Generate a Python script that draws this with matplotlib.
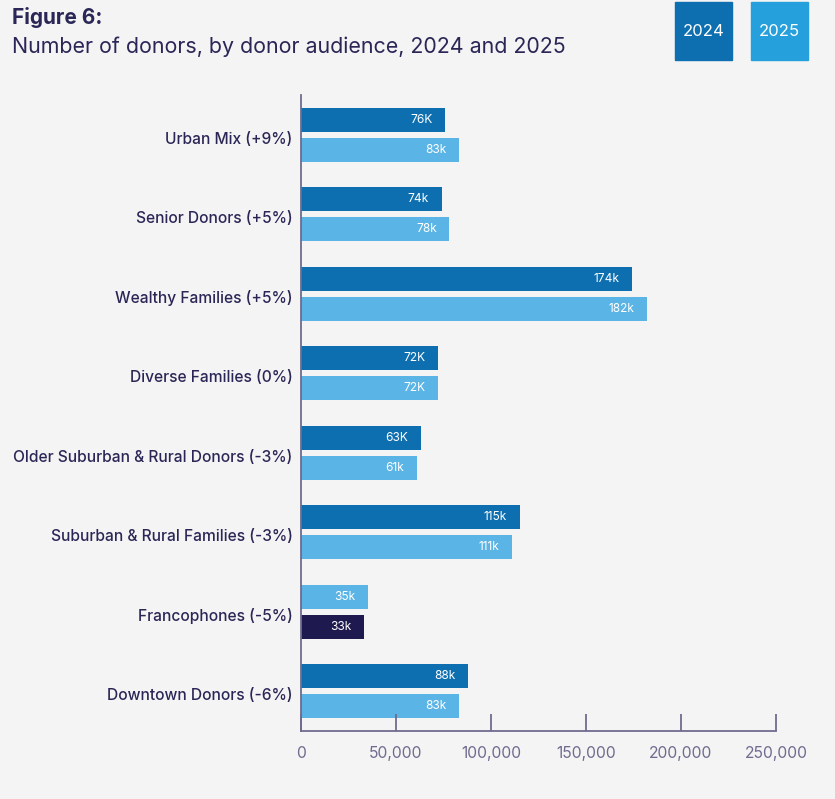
import matplotlib
matplotlib.use("Agg")
import matplotlib.pyplot as plt
import matplotlib.patches as mpatches
import matplotlib.transforms as mtransforms

# donor audiences, top to bottom
audiences = [
    "Urban Mix (+9%)",
    "Senior Donors (+5%)",
    "Wealthy Families (+5%)",
    "Diverse Families (0%)",
    "Older Suburban & Rural Donors (-3%)",
    "Suburban & Rural Families (-3%)",
    "Francophones (-5%)",
    "Downtown Donors (-6%)",
]
# upper bar and lower bar of each pair (thousands of donors)
upper_vals = [76, 74, 174, 72, 63, 115, 35, 88]
lower_vals = [83, 78, 182, 72, 61, 111, 33, 83]
upper_labels = ["76K", "74k", "174k", "72K", "63K", "115k", "35k", "88k"]
lower_labels = ["83k", "78k", "182k", "72K", "61k", "111k", "33k", "83k"]
x_ticks = [0, 50000, 100000, 150000, 200000, 250000]
legend_years = ["2024", "2025"]

DARK = "#0e6fb0"
LIGHT = "#5ab4e5"
NAVY = "#1e1a4f"
BG = "#f4f4f4"
TEXT = "#2a2656"
AXIS = "#6f6b8f"

upper_colors = [DARK] * 8
lower_colors = [LIGHT] * 8
upper_colors[6] = LIGHT
lower_colors[6] = NAVY

plt.rcParams["font.family"] = ["Inter", "DejaVu Sans"]

fig = plt.figure(figsize=(8.35, 7.99), dpi=100, facecolor=BG)
ax = fig.add_axes([301 / 835, 1 - 731 / 799, 475 / 835, 636 / 799])
ax.set_facecolor(BG)

bar_h = 0.302
off = 0.189
ys = list(range(len(audiences)))
top = ax.barh([y - off for y in ys], [v * 1000 for v in upper_vals], height=bar_h,
              color=upper_colors)
bot = ax.barh([y + off for y in ys], [v * 1000 for v in lower_vals], height=bar_h,
              color=lower_colors)

for bars, labels in [(top, upper_labels), (bot, lower_labels)]:
    for b, lab in zip(bars, labels):
        ax.annotate(lab, (b.get_width(), b.get_y() + b.get_height() / 2),
                    xytext=(-9, 0), textcoords="offset points",
                    ha="right", va="center", color="white", fontsize=8.6)

ax.set_xlim(0, 250000)
ax.set_ylim(len(audiences) - 0.5, -0.5)
ax.set_yticks(ys)
ax.set_yticklabels(audiences, fontsize=11.2, color=TEXT, fontweight="medium")
ax.tick_params(axis="y", length=0, pad=6)
shift = mtransforms.ScaledTranslation(0, -3 / 100, fig.dpi_scale_trans)
for lab in ax.get_yticklabels():
    lab.set_transform(lab.get_transform() + shift)
ax.set_xticks(x_ticks)
ax.set_xticklabels([f"{t:,}" for t in x_ticks], fontsize=11.3, color=AXIS)
ax.tick_params(axis="x", direction="in", length=12, width=1.3, color=AXIS, pad=11)

for side in ["top", "right"]:
    ax.spines[side].set_visible(False)
for side in ["bottom", "left"]:
    ax.spines[side].set_color(AXIS)
    ax.spines[side].set_linewidth(1.3)

fig.text(12 / 835, 1 - 18 / 799, "Figure 6:", fontsize=15, fontweight="bold",
         color=TEXT, va="center")
fig.text(12 / 835, 1 - 47 / 799, "Number of donors, by donor audience, 2024 and 2025",
         fontsize=15.4, color=TEXT, va="center")

# legend boxes
for i, (yr, col) in enumerate(zip(legend_years, [DARK, "#25a0dc"])):
    x0 = (675 + i * 76) / 835
    fig.add_artist(mpatches.Rectangle((x0, 1 - 60 / 799), 57 / 835, 58 / 799,
                                      transform=fig.transFigure, color=col))
    fig.text(x0 + 28.5 / 835, 1 - 31 / 799, yr, color="white", fontsize=12,
             ha="center", va="center")

fig.savefig("out.png", dpi=100, facecolor=BG)
